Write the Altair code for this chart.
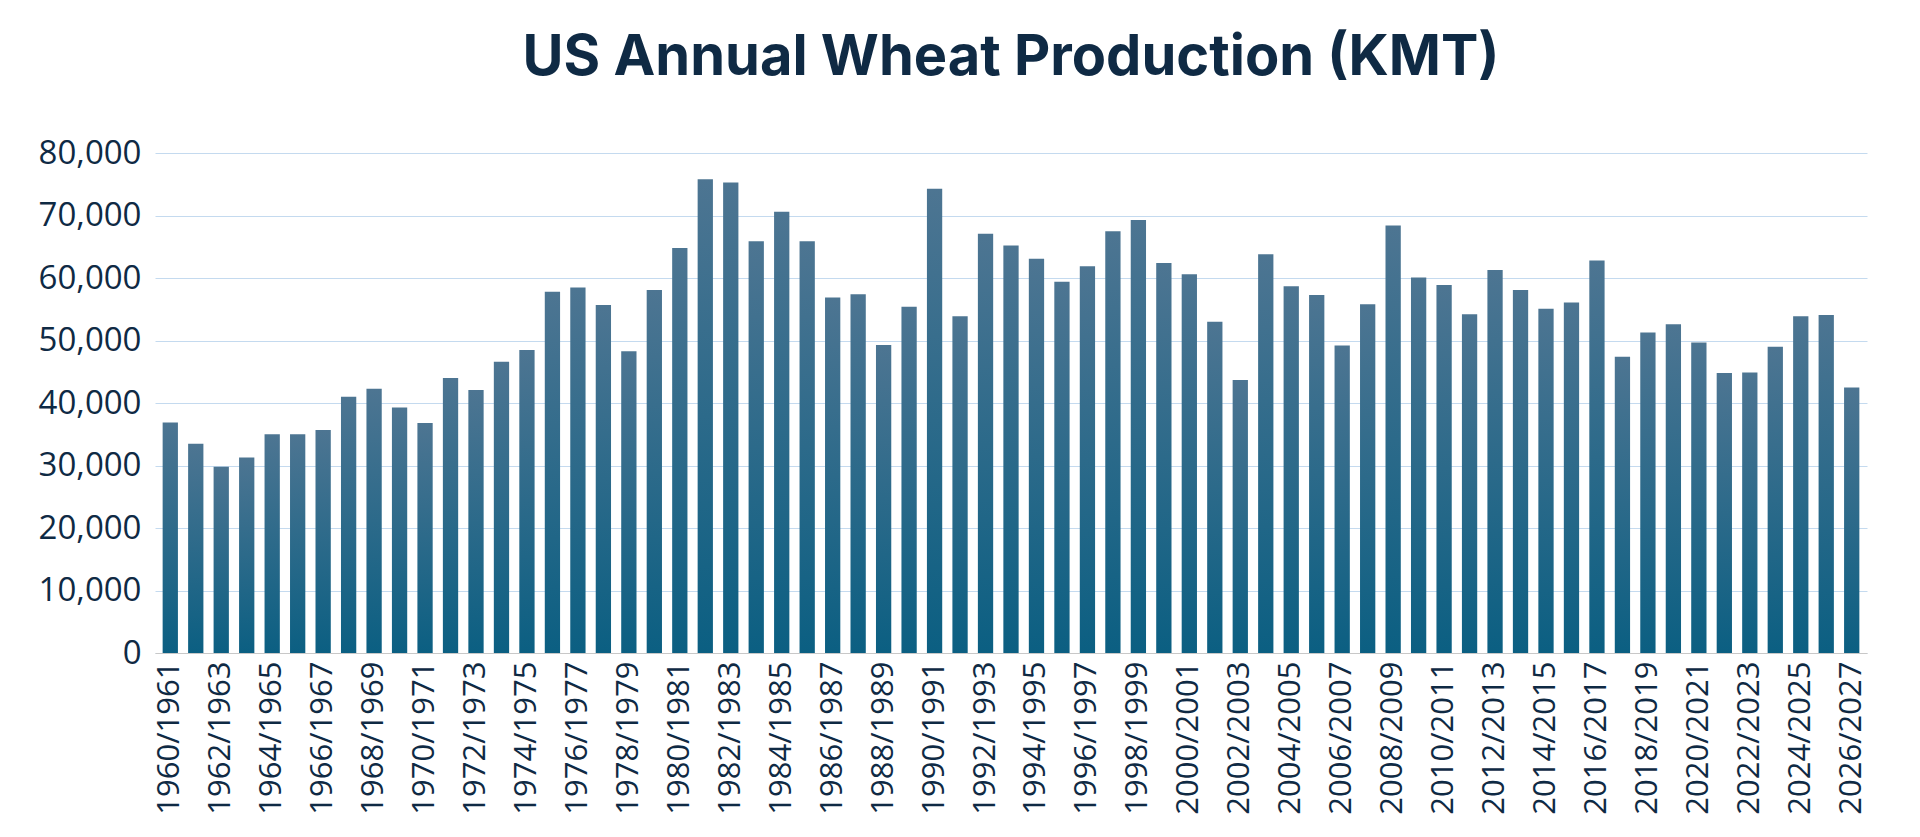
import altair as alt
import pandas as pd

years = list(range(1960, 2027))
seasons = [f"{y}/{y+1}" for y in years]
production = [36900, 33500, 29800, 31300, 35000, 35000, 35700, 41000, 42300, 39300,
              36800, 44000, 42100, 46600, 48500, 57800, 58500, 55700, 48300, 58100,
              64800, 75800, 75300, 65900, 70600, 65900, 56900, 57400, 49300, 55400,
              74300, 53900, 67100, 65200, 63100, 59400, 61900, 67500, 69300, 62400,
              60600, 53000, 43700, 63800, 58700, 57300, 49200, 55800, 68400, 60100,
              58900, 54200, 61300, 58100, 55100, 56100, 62800, 47400, 51300, 52600,
              49700, 44800, 44900, 49000, 53900, 54100, 42500]
shown_labels = seasons[::2]

df = pd.DataFrame({"season": seasons, "production": production})

chart = alt.Chart(df).mark_bar(
    color=alt.Gradient(gradient="linear", x1=0, x2=0, y1=0, y2=1,
                       stops=[alt.GradientStop(color="#4d7592", offset=0),
                              alt.GradientStop(color="#0b5f82", offset=1)])
).encode(
    x=alt.X("season:N", sort=seasons, title=None,
            scale=alt.Scale(paddingInner=0.4, paddingOuter=0.3),
            axis=alt.Axis(values=shown_labels, labelAngle=-90, labelFontSize=31,
                          labelColor="#0f2a44", ticks=False, domainColor="#c8c8c8",
                          labelPadding=8, labelFont="Open Sans")),
    y=alt.Y("production:Q", title=None,
            scale=alt.Scale(domain=[0, 80000]),
            axis=alt.Axis(values=list(range(0, 80001, 10000)), format=",.0f",
                          labelFontSize=33, labelColor="#0f2a44", ticks=False,
                          domain=False, gridColor="#c4daef", labelPadding=14,
                          labelFont="Open Sans"))
).properties(
    width=1904, height=821,
    autosize=alt.AutoSizeParams(type="fit", contains="padding"),
    padding={"left": 30, "right": 45, "top": 22, "bottom": 14},
    title=alt.TitleParams("US Annual Wheat Production (KMT)", fontSize=56,
                          font="Inter", fontWeight="bold", color="#0f2a44",
                          anchor="middle", offset=50),
    background="white"
).configure_view(strokeWidth=0)

chart.save("out.html", embed_options={"renderer": "svg", "actions": False})
